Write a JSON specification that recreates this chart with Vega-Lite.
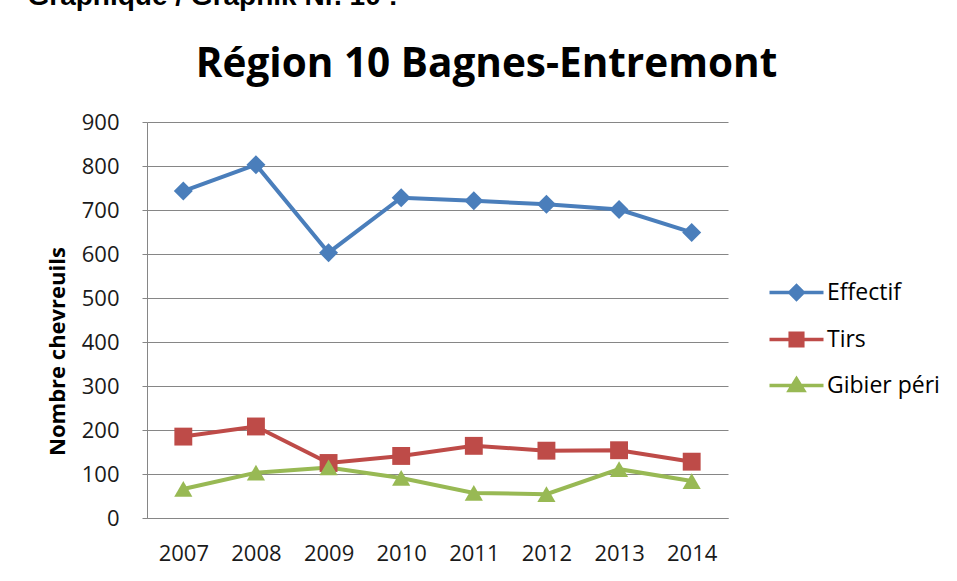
{
  "$schema": "https://vega.github.io/schema/vega-lite/v6.json",
  "width": 581,
  "height": 396,
  "autosize": {"type": "none"},
  "padding": {"left": 147, "top": 122, "right": 229, "bottom": 63},
  "background": "white",
  "config": {
    "font": "Open Sans",
    "view": {"stroke": null}
  },
  "title": {
    "text": "Région 10 Bagnes-Entremont",
    "font": "Open Sans",
    "fontSize": 40.5,
    "fontWeight": "bold",
    "color": "#000000",
    "anchor": "middle",
    "frame": "group",
    "baseline": "alphabetic",
    "dx": 49,
    "dy": 135,
    "offset": 0
  },
  "data": {
    "values": [
      {"year": "2007", "series": "Effectif", "value": 743},
      {"year": "2008", "series": "Effectif", "value": 803},
      {"year": "2009", "series": "Effectif", "value": 603},
      {"year": "2010", "series": "Effectif", "value": 728},
      {"year": "2011", "series": "Effectif", "value": 721},
      {"year": "2012", "series": "Effectif", "value": 713},
      {"year": "2013", "series": "Effectif", "value": 701},
      {"year": "2014", "series": "Effectif", "value": 649},
      {"year": "2007", "series": "Tirs", "value": 185},
      {"year": "2008", "series": "Tirs", "value": 208},
      {"year": "2009", "series": "Tirs", "value": 125},
      {"year": "2010", "series": "Tirs", "value": 141},
      {"year": "2011", "series": "Tirs", "value": 164},
      {"year": "2012", "series": "Tirs", "value": 153},
      {"year": "2013", "series": "Tirs", "value": 154},
      {"year": "2014", "series": "Tirs", "value": 128},
      {"year": "2007", "series": "Gibier péri", "value": 66},
      {"year": "2008", "series": "Gibier péri", "value": 103},
      {"year": "2009", "series": "Gibier péri", "value": 115},
      {"year": "2010", "series": "Gibier péri", "value": 91},
      {"year": "2011", "series": "Gibier péri", "value": 57},
      {"year": "2012", "series": "Gibier péri", "value": 54},
      {"year": "2013", "series": "Gibier péri", "value": 111},
      {"year": "2014", "series": "Gibier péri", "value": 84}
    ]
  },
  "encoding": {
    "y": {
      "field": "value",
      "type": "quantitative",
      "scale": {"domain": [0, 900], "nice": false, "zero": true},
      "axis": {
        "values": [0, 100, 200, 300, 400, 500, 600, 700, 800, 900],
        "title": "Nombre chevreuils",
        "titleFont": "Open Sans",
        "titleFontSize": 22,
        "titleFontWeight": "bold",
        "titleColor": "#000000",
        "titleAngle": -90,
        "titleX": -90,
        "titleY": 229,
        "titleAlign": "center",
        "titleBaseline": "middle",
        "labelFontSize": 22,
        "labelColor": "#1a1a1a",
        "labelPadding": 23,
        "tickSize": 5,
        "tickColor": "#868686",
        "domainColor": "#868686",
        "domainWidth": 1,
        "grid": true,
        "gridColor": "#868686",
        "gridWidth": 1
      }
    },
    "color": {
      "field": "series",
      "type": "nominal",
      "scale": {
        "domain": ["Effectif", "Tirs", "Gibier péri"],
        "range": ["#4A7EBB", "#BE4B48", "#98B954"]
      },
      "legend": {
        "title": null,
        "orient": "none",
        "legendX": 625,
        "legendY": 146,
        "padding": 0,
        "rowPadding": 8,
        "symbolSize": 2025,
        "labelOffset": 6,
        "labelFontSize": 23,
        "labelColor": "#000000",
        "labelFont": "Open Sans",
        "encode": {
          "symbols": {
            "update": {
              "shape": {"signal": "datum.value === 'Effectif' ? 'M-1.2,0H1.2M0,-0.3L0.3,0L0,0.3L-0.3,0Z' : datum.value === 'Tirs' ? 'M-1.2,0H1.2M-0.28,-0.28H0.28V0.28H-0.28Z' : 'M-1.2,0H1.2M-0.32,0.22L0,-0.3L0.32,0.22Z'"},
              "fill": {"scale": "color", "field": "value"},
              "stroke": {"scale": "color", "field": "value"},
              "strokeWidth": {"value": 3.5},
              "opacity": {"value": 1},
              "fillOpacity": {"value": 1}
            }
          }
        }
      }
    },
    "x": {
      "field": "year",
      "type": "ordinal",
      "scale": {"type": "point", "padding": 0.5},
      "axis": null
    }
  },
  "layer": [
    {
      "mark": {"type": "line", "strokeWidth": 4},
      "encoding": {
        "x": {
          "field": "year",
          "type": "ordinal",
          "scale": {"type": "point", "padding": 0.5},
          "axis": {
            "title": null,
            "labelAngle": 0,
            "ticks": false,
            "grid": false,
            "labelFontSize": 22,
            "labelColor": "#1a1a1a",
            "labelPadding": 25,
            "domainColor": "#868686",
            "domainWidth": 1
          }
        }
      }
    },
    {
      "transform": [{"filter": "datum.series === 'Effectif'"}],
      "mark": {"type": "point", "shape": "diamond", "filled": true, "size": 361, "opacity": 1, "strokeWidth": 0},
      "encoding": {
        "x": {
          "field": "year",
          "type": "ordinal",
          "scale": {"type": "point", "padding": 0.5},
          "axis": {
            "orient": "top",
            "labels": false,
            "ticks": false,
            "domain": false,
            "grid": false,
            "title": "Graphique / Graphik Nr. 10 :",
            "titleFont": "Liberation Sans",
            "titleFontSize": 28,
            "titleFontWeight": "bold",
            "titleColor": "#000000",
            "titleX": -120,
            "titleY": -118,
            "titleAlign": "left",
            "titleBaseline": "alphabetic",
            "titleAngle": 0
          }
        }
      }
    },
    {
      "transform": [{"filter": "datum.series === 'Tirs'"}],
      "mark": {"type": "point", "shape": "square", "filled": true, "size": 320, "opacity": 1, "strokeWidth": 0}
    },
    {
      "transform": [{"filter": "datum.series === 'Gibier péri'"}],
      "mark": {"type": "point", "shape": "triangle-up", "filled": true, "size": 330, "opacity": 1, "strokeWidth": 0}
    }
  ],
  "resolve": {"axis": {"x": "independent"}}
}
